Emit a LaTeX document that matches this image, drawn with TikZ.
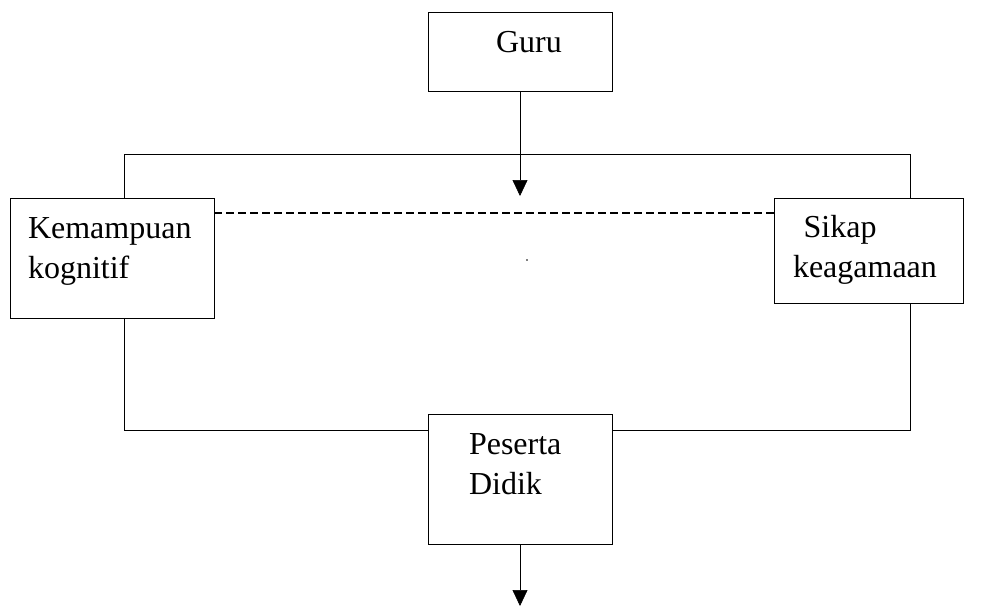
\documentclass[tikz,border=0pt]{standalone}
\usepackage{fontspec}
\setmainfont{Liberation Serif}
\usetikzlibrary{arrows.meta}

\tikzset{
  kotak/.style={draw, rectangle, inner sep=0pt, align=left, text height=22pt,
    font=\fontsize{32}{40}\selectfont},
  panah/.style={-{Triangle[width=15pt,length=16pt]}},
  putus/.style={line width=1.8pt, dash pattern=on 8pt off 4pt}
}

\begin{document}
\begin{tikzpicture}[x=1pt, y=-1pt, semithick]
  \useasboundingbox (0,0) rectangle (992,606);

  \node [kotak, minimum width=184, minimum height=79, text width=48pt, text depth=21pt] (guru) at (520,51.5) {Guru};
  \node [kotak, minimum width=204, minimum height=120, text width=168pt, text depth=62pt] (kog) at (112,258) {Kemampuan\\kognitif};
  \node [kotak, minimum width=189, minimum height=105, text width=151pt, text depth=49pt] (sikap) at (868.5,250.5) {\ Sikap\\keagamaan};
  \node [kotak, minimum width=184, minimum height=130, text width=102pt, text depth=72pt] (peserta) at (520,479) {Peserta\\Didik};

  \coordinate (kiri) at (124,154);
  \coordinate (kanan) at (910,154);
  \coordinate (kiribawah) at (124,430);
  \coordinate (kananbawah) at (910,430);
  \coordinate (garis) at (0,213);
  \coordinate (masuk) at (guru.south |- 0,196);
  \coordinate (keluar) at (peserta.south |- 0,606);

  % arah dari guru
  \draw [panah] (guru.south) -- (masuk);

  % bingkai atas
  \draw (kog.north -| kiri) -- (kiri) -- (kanan) -- (sikap.north -| kanan);
  \draw [putus] (kog.east |- garis) -- (sikap.west |- garis);

  % bingkai bawah
  \draw (kog.south -| kiri) -- (kiribawah) -- (kiribawah -| peserta.west);
  \draw (sikap.south -| kanan) -- (kananbawah) -- (kananbawah -| peserta.east);

  \fill [gray] (526,259) rectangle (528,261);

  \draw [panah] (peserta.south) -- (keluar);

\end{tikzpicture}
\end{document}
